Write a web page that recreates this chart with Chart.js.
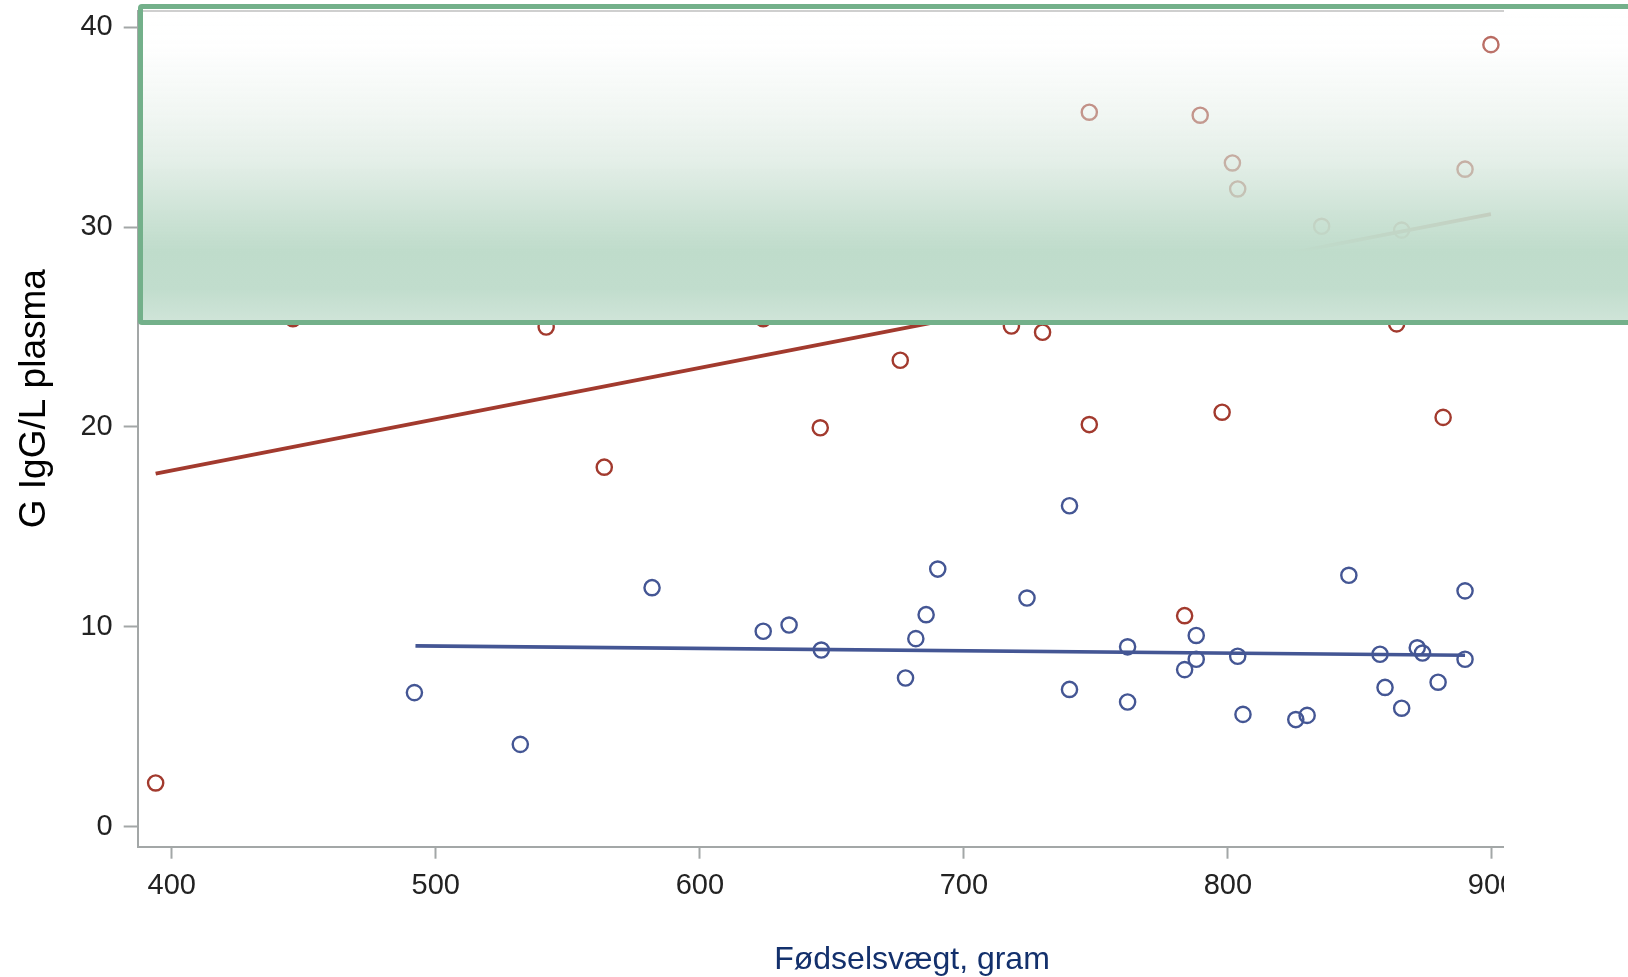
<!DOCTYPE html>
<html>
<head>
<meta charset="utf-8">
<script src="https://cdn.jsdelivr.net/npm/chart.js@4.4.1/dist/chart.umd.min.js"></script>
<style>
  html, body { margin: 0; padding: 0; background: #ffffff; overflow: hidden; }
  #wrap { position: relative; width: 1628px; height: 977px; overflow: hidden; background: #ffffff; }
  #c { position: absolute; left: 0; top: -100px; width: 1700px; height: 1087px; }
  #crop { position: absolute; left: 1504px; top: 0; width: 124px; height: 977px; background: #ffffff; }
  #cropTop { position: absolute; left: 0; top: 0; width: 1628px; height: 9.5px; background: #ffffff; }
  #frameTop { position: absolute; left: 138px; top: 9.5px; width: 1366px; height: 2px; background: #c6c6c6; }
  #box {
    position: absolute; left: 137.5px; top: 4.3px; width: 1520px; height: 311px;
    border: 5px solid #73b08a; border-radius: 4px;
    background: linear-gradient(to bottom,
      rgba(255,255,255,0.15) 0%,
      rgba(252,254,253,0.28) 12%,
      rgba(228,238,231,0.50) 33%,
      rgba(215,231,221,0.68) 49%,
      rgba(198,223,208,0.92) 68%,
      rgba(191,220,203,1) 78%,
      rgba(193,221,205,1) 90%,
      rgba(207,228,216,1) 100%);
  }
</style>
</head>
<body>
<div id="wrap">
  <canvas id="c" width="1700" height="1087"></canvas>
  <div id="crop"></div>
  <div id="cropTop"></div>
  <div id="frameTop"></div>
  <div id="box"></div>
</div>
<script>
// ---- data ----
const xTickValues = [400, 500, 600, 700, 800, 900];
const yTickValues = [0, 10, 20, 30, 40];

const blueX = [491.9, 532.0, 581.9, 624.0, 633.8, 646.0, 677.9, 681.8, 685.7, 690.1,
               723.9, 740.0, 740.0, 762.0, 762.0, 783.6, 788.0, 788.0, 803.7, 805.7,
               825.7, 830.0, 845.8, 857.6, 859.5, 865.8, 871.7, 873.7, 879.6, 889.8, 889.8];
const blueY = [6.71, 4.12, 11.96, 9.78, 10.09, 8.84, 7.44, 9.41, 10.61, 12.89,
               11.44, 16.06, 6.87, 9.00, 6.24, 7.86, 9.57, 8.38, 8.53, 5.62,
               5.36, 5.57, 12.58, 8.63, 6.97, 5.93, 8.95, 8.69, 7.23, 11.80, 8.38];

const redX = [393.9, 445.9, 541.8, 563.8, 624.0, 645.6, 675.9, 718.0, 729.8, 747.5,
              747.5, 783.6, 789.5, 797.8, 801.7, 803.7, 835.5, 863.9, 865.8, 881.5,
              889.8, 899.6, 624.0, 674.7];
const redY = [2.19, 25.42, 25.00, 17.99, 25.42, 19.96, 23.34, 25.05, 24.74, 20.12,
              35.75, 10.56, 35.60, 20.74, 33.21, 31.91, 30.04, 25.16, 29.85, 20.48,
              32.90, 39.13, 27.8, 27.8];

const blueFitX = [492.3, 889.8];
const blueFitY = [9.05, 8.58];
const redFitX = [393.9, 899.6];
const redFitY = [17.67, 30.65];

const blueColor = '#445694';
const redColor = '#A23A2E';
const axisColor = '#a3a7a7';
const FONT = "'Liberation Sans', Arial, Helvetica, sans-serif";

const pts = (xs, ys) => xs.map((x, i) => ({ x: x, y: ys[i] }));

new Chart(document.getElementById('c'), {
  type: 'scatter',
  data: {
    datasets: [
      {
        label: 'fit red', type: 'line', data: pts(redFitX, redFitY),
        borderColor: redColor, borderWidth: 3.8, pointRadius: 0, fill: false, tension: 0
      },
      {
        label: 'fit blue', type: 'line', data: pts(blueFitX, blueFitY),
        borderColor: blueColor, borderWidth: 3.6, pointRadius: 0, fill: false, tension: 0
      },
      {
        label: 'red', data: pts(redX, redY), pointStyle: 'circle',
        pointRadius: 7.6, pointBorderWidth: 2.4, borderColor: redColor,
        backgroundColor: 'rgba(0,0,0,0)', pointBackgroundColor: 'rgba(0,0,0,0)'
      },
      {
        label: 'blue', data: pts(blueX, blueY), pointStyle: 'circle',
        pointRadius: 7.6, pointBorderWidth: 2.4, borderColor: blueColor,
        backgroundColor: 'rgba(0,0,0,0)', pointBackgroundColor: 'rgba(0,0,0,0)'
      }
    ]
  },
  options: {
    responsive: false,
    animation: false,
    devicePixelRatio: 1,
    layout: { padding: { left: 0, top: 50.7, right: 13.7, bottom: 0 } },
    plugins: { legend: { display: false }, tooltip: { enabled: false } },
    scales: {
      x: {
        type: 'linear', position: 'bottom',
        min: 387.1, max: 973.6,
        afterBuildTicks: s => { s.ticks = xTickValues.map(v => ({ value: v })); },
        afterFit: s => { s.height = 140.3; },
        border: { display: true, color: axisColor, width: 2 },
        grid: { display: true, drawOnChartArea: false, drawTicks: true, tickLength: 12, tickWidth: 2, color: axisColor },
        ticks: { color: '#222222', padding: 10, maxRotation: 0, autoSkip: false, font: { family: FONT, size: 29 } },
        title: { display: true, text: 'Fødselsvægt, gram', color: '#13306c',
                 font: { family: FONT, size: 32 }, padding: { top: 0, bottom: 7.8 } }
      },
      y: {
        type: 'linear', position: 'left',
        min: -1.0, max: 43.83,
        afterBuildTicks: s => { s.ticks = yTickValues.map(v => ({ value: v })); },
        afterFit: s => { s.width = 137.7; },
        border: { display: true, color: axisColor, width: 2 },
        grid: { display: true, drawOnChartArea: false, drawTicks: true, tickLength: 14, tickWidth: 2, color: axisColor },
        ticks: { color: '#222222', padding: 11, font: { family: FONT, size: 29 } },
        title: { display: true, text: 'G IgG/L plasma', color: '#000000',
                 font: { family: FONT, size: 37 }, padding: { top: 12.5, bottom: 0 } }
      }
    }
  }
});
</script>
</body>
</html>
